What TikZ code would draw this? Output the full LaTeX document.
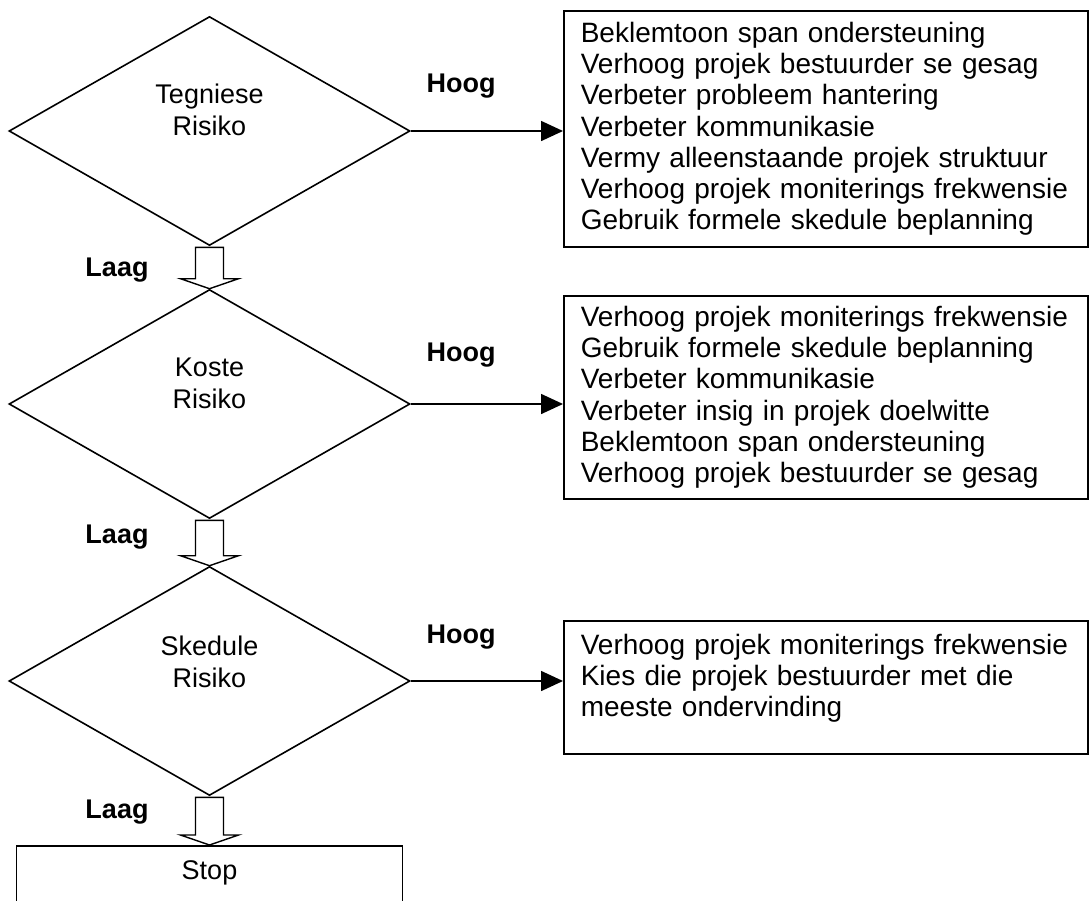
\documentclass[tikz,border=0pt]{standalone}
\usepackage{fontspec}
\setmainfont{Liberation Sans}
\usetikzlibrary{shapes.geometric,arrows.meta,calc}

\begin{document}
\begin{tikzpicture}[x=1pt,y=-1pt,line width=1.6pt,
    risk/.style={draw,diamond,minimum width=401pt,minimum height=229pt,inner sep=0pt},
    risktext/.style={align=center,font=\fontsize{27}{32}\selectfont},
    actions/.style={draw,anchor=north west,align=left,text width=490pt,inner xsep=17pt,font=\fontsize{28}{31.2}\selectfont},
    lvl/.style={font=\fontsize{27}{32}\selectfont\bfseries},
    hollow/.style={line width=1.4pt},
    go/.style={-{Triangle[length=22pt,width=20pt]}}]

    \useasboundingbox (0,0) rectangle (1090,900);

    \node[risk] (tech) at (209.5,131) {};
    \node[risk] (cost) at (209.5,404) {};
    \node[risk] (sched) at (209.5,681) {};
    \node[risktext] (techtext) at (209.5,110) {Tegniese\\Risiko};
    \node[risktext] (costtext) at (209.5,383) {Koste\\Risiko};
    \node[risktext] (schedtext) at (209.5,662) {Skedule\\Risiko};
    \node[draw,anchor=north,minimum width=386pt,inner ysep=15pt,text depth=50pt,font=\fontsize{27}{32}\selectfont] (stop) at (209.5,845) {Stop};

    \node[actions,minimum height=236pt] (techbox) at (563,10) {Beklemtoon span ondersteuning\\Verhoog projek bestuurder se gesag\\Verbeter probleem hantering\\Verbeter kommunikasie\\Vermy alleenstaande projek struktuur\\Verhoog projek moniterings frekwensie\\Gebruik formele skedule beplanning};
    \node[actions,minimum height=203pt] (costbox) at (563,295) {Verhoog projek moniterings frekwensie\\Gebruik formele skedule beplanning\\Verbeter kommunikasie\\Verbeter insig in projek doelwitte\\Beklemtoon span ondersteuning\\Verhoog projek bestuurder se gesag};
    \node[actions,inner ysep=13pt,text depth=87pt] (schedbox) at (563,620) {Verhoog projek moniterings frekwensie\\Kies die projek bestuurder met die\\meeste ondervinding};

    \node[lvl] (techhigh) at (461,86) {Hoog};
    \node[lvl] (costhigh) at (461,355) {Hoog};
    \node[lvl] (schedhigh) at (461,637) {Hoog};
    \node[lvl] (techlow) at (117,270) {Laag};
    \node[lvl] (costlow) at (117,537) {Laag};
    \node[lvl] (schedlow) at (117,812) {Laag};

    \draw[go] (tech.east) -- (tech.east -| techbox.west);
    \draw[go] (cost.east) -- (cost.east -| costbox.west);
    \draw[go] (sched.east) -- (sched.east -| schedbox.west);

    \draw[hollow] ($(tech.south)+(-14,1)$) -- ($(cost.north)+(-14,-10)$) -- ($(cost.north)+(-29,-10)$) -- (cost.north) -- ($(cost.north)+(29,-10)$) -- ($(cost.north)+(14,-10)$) -- ($(tech.south)+(14,1)$) -- cycle;
    \draw[hollow] ($(cost.south)+(-14,1)$) -- ($(sched.north)+(-14,-10)$) -- ($(sched.north)+(-29,-10)$) -- (sched.north) -- ($(sched.north)+(29,-10)$) -- ($(sched.north)+(14,-10)$) -- ($(cost.south)+(14,1)$) -- cycle;
    \draw[hollow] ($(sched.south)+(-14,1)$) -- ($(stop.north)+(-14,-10)$) -- ($(stop.north)+(-29,-10)$) -- (stop.north) -- ($(stop.north)+(29,-10)$) -- ($(stop.north)+(14,-10)$) -- ($(sched.south)+(14,1)$) -- cycle;
\end{tikzpicture}
\end{document}
